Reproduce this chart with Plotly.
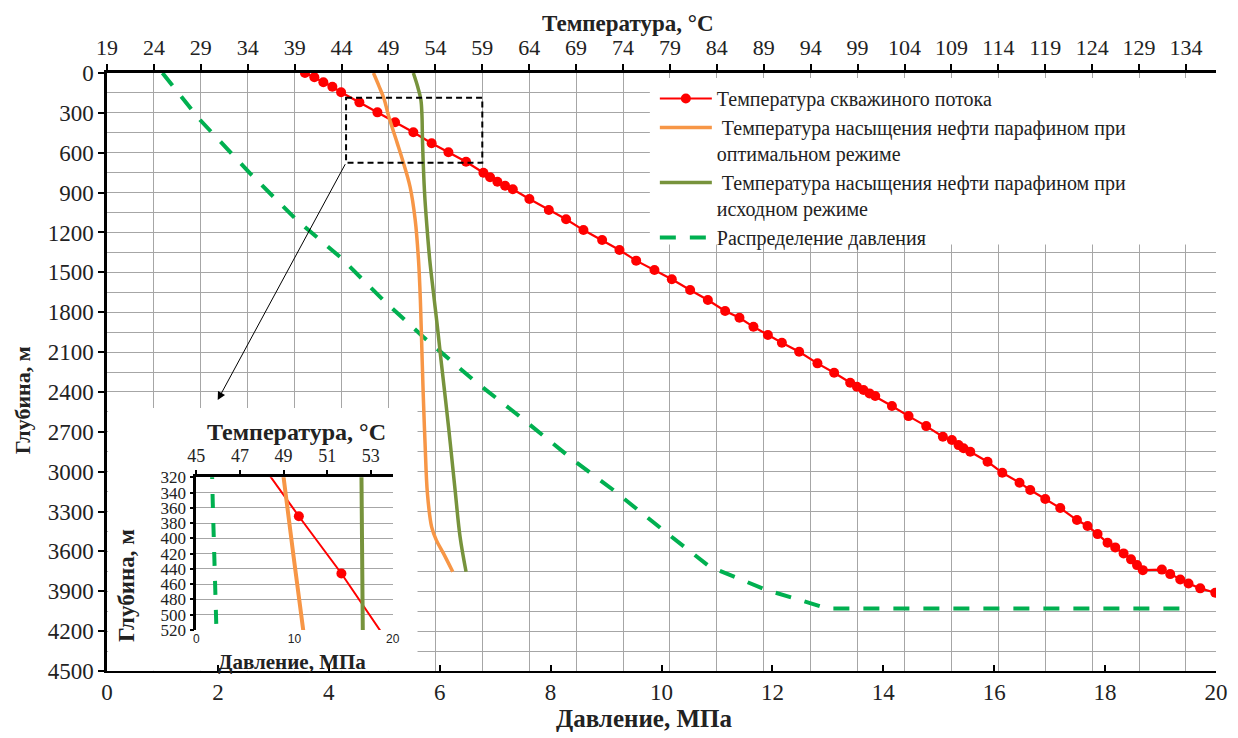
import plotly.graph_objects as go

# ---------------- data ----------------
# well flow temperature (°C) vs depth (m)
flow_depth = [0, 32, 70, 103, 145, 221, 296, 371, 446, 528, 597, 668, 751, 785, 818, 848, 875,
              948, 1031, 1101, 1182, 1257, 1332, 1412, 1482, 1552, 1633, 1708, 1791, 1842, 1910,
              1972, 2030, 2098, 2185, 2256, 2331, 2361, 2386, 2411, 2431, 2506, 2582, 2657, 2737,
              2762, 2800, 2824, 2850, 2925, 3008, 3083, 3138, 3206, 3274, 3364, 3409, 3470, 3535,
              3570, 3615, 3660, 3703, 3741, 3737, 3771, 3811, 3841, 3878, 3911]
flow_temp = [40.1, 41.1, 42.06, 43.02, 43.95, 45.9, 47.82, 49.7, 51.65, 53.6, 55.39, 57.27, 59.12,
             59.83, 60.61, 61.43, 62.25, 64.02, 66.09, 67.93, 69.78, 71.77, 73.62, 75.4, 77.35,
             79.2, 81.15, 83.04, 84.88, 86.41, 87.9, 89.44, 90.93, 92.77, 94.72, 96.5, 98.21,
             98.93, 99.63, 100.27, 100.88, 102.66, 104.43, 106.31, 108.09, 109.05, 109.76, 110.29,
             111.01, 112.85, 114.42, 116.26, 117.4, 119.0, 120.6, 122.38, 123.51, 124.58, 125.64,
             126.46, 127.35, 128.14, 128.78, 129.4, 131.43, 132.32, 133.39, 134.27, 135.52, 137.12]

# wax saturation temperature, optimal regime
opt_depth = [0, 100, 200, 320, 520, 655, 856, 1106, 1407, 1708, 2060, 2411, 2787, 3163, 3415,
             3515, 3615, 3753]
opt_temp = [47.4, 48.0, 48.55, 49.0, 49.9, 50.5, 51.3, 51.85, 52.2, 52.4, 52.55, 52.7, 52.9,
            53.15, 53.6, 54.1, 54.86, 55.85]

# wax saturation temperature, initial regime
init_depth = [0, 100, 200, 320, 520, 905, 1157, 1407, 1658, 1900, 2160, 2662, 3138, 3490, 3753]
init_temp = [51.65, 52.1, 52.45, 52.57, 52.63, 52.85, 53.1, 53.4, 53.8, 54.2, 54.6, 55.4, 56.1,
             56.63, 57.27]

# pressure distribution (MPa) vs depth (m)
pres_depth = [0, 354, 755, 1106, 1383, 1708, 1985, 2311, 2587, 2913, 3138, 3364, 3440, 3716,
              3891, 3966, 4029, 4029]
pres_value = [1.0, 1.68, 2.58, 3.42, 4.2, 4.98, 5.7, 6.61, 7.45, 8.41, 9.13, 9.79, 10.03, 10.87,
              11.9, 12.5, 12.98, 19.4]

legend_names = ["Температура скважиного потока",
                " Температура насыщения нефти парафином при<br>оптимальном режиме",
                " Температура насыщения нефти парафином при<br>исходном режиме",
                "Распределение давления"]

# ---------------- styles ----------------
RED = "#ff0000"
ORANGE = "#f79646"
OLIVE = "#77933c"
GREEN = "#00b050"
GRID = "#a6a6a6"
SERIF = "Liberation Serif"
DASH = "16px,14px"

fig = go.Figure()

# main traces
fig.add_trace(go.Scatter(x=pres_value, y=pres_depth, xaxis="x", yaxis="y", mode="lines",
                         line=dict(color=GREEN, width=4, dash=DASH), name=legend_names[3],
                         legendrank=4))
fig.add_trace(go.Scatter(x=flow_temp, y=flow_depth, xaxis="x2", yaxis="y", mode="lines+markers",
                         line=dict(color=RED, width=2.2), marker=dict(color=RED, size=10),
                         name=legend_names[0], legendrank=1))
fig.add_trace(go.Scatter(x=opt_temp, y=opt_depth, xaxis="x2", yaxis="y", mode="lines",
                         line=dict(color=ORANGE, width=3.5, shape="spline"),
                         name=legend_names[1], legendrank=2))
fig.add_trace(go.Scatter(x=init_temp, y=init_depth, xaxis="x2", yaxis="y", mode="lines",
                         line=dict(color=OLIVE, width=3.5, shape="spline"),
                         name=legend_names[2], legendrank=3))

# inset traces
fig.add_trace(go.Scatter(x=pres_value, y=pres_depth, xaxis="x3", yaxis="y2", mode="lines",
                         line=dict(color=GREEN, width=4, dash="14px,15px"), showlegend=False))
fig.add_trace(go.Scatter(x=flow_temp, y=flow_depth, xaxis="x5", yaxis="y2", mode="lines+markers",
                         line=dict(color=RED, width=2), marker=dict(color=RED, size=10),
                         cliponaxis=True, showlegend=False))
fig.add_trace(go.Scatter(x=opt_temp, y=opt_depth, xaxis="x5", yaxis="y2", mode="lines",
                         line=dict(color=ORANGE, width=4, shape="spline"), showlegend=False))
fig.add_trace(go.Scatter(x=init_temp, y=init_depth, xaxis="x5", yaxis="y2", mode="lines",
                         line=dict(color=OLIVE, width=4, shape="spline"), showlegend=False))

tickf = dict(family=SERIF, size=23, color="#222")

# inset domain in paper coords
IX = [0.0805, 0.2576]
IY = [0.0686, 0.3239]

# the page body has an 8px margin, so the figure is made 8px smaller on each axis
fig.update_layout(
    width=1230, height=730,
    margin=dict(l=99, r=22, t=65, b=67),
    paper_bgcolor="white", plot_bgcolor="white",
    font=dict(family=SERIF, color="#222"),
    xaxis=dict(domain=[0, 1], anchor="y", range=[0, 20], dtick=2, tick0=0, automargin=False,
               showgrid=False, zeroline=False, showline=True, linecolor="black", linewidth=1.5,
               ticks="inside", ticklen=6, tickcolor="black", tickwidth=1.5, tickfont=tickf),
    xaxis2=dict(overlaying="x", side="top", anchor="y", range=[19, 137.2], tick0=19, dtick=5,
                automargin=False,
                showgrid=True, gridcolor=GRID, gridwidth=1.3, zeroline=False,
                showline=True, linecolor="black", linewidth=3,
                ticks="outside", ticklen=6, tickcolor="black", tickwidth=1.5,
                tickfont=dict(family=SERIF, size=22, color="#222")),
    xaxis4=dict(overlaying="x", side="top", anchor="y", range=[19, 137.2], tick0=19, dtick=5,
                automargin=False,
                showgrid=False, zeroline=False, showticklabels=False,
                ticks="inside", ticklen=6, tickcolor="black", tickwidth=1.5),
    yaxis=dict(domain=[0, 1], anchor="x", range=[4500, 0], dtick=300, tick0=0, automargin=False,
               showgrid=True, gridcolor=GRID, gridwidth=1.3, zeroline=False,
               minor=dict(dtick=150, showgrid=True, gridcolor=GRID, gridwidth=1.3),
               showline=True, linecolor="black", linewidth=2.5,
               ticks="outside", ticklen=6, tickcolor="black", tickwidth=1.5, tickfont=tickf),
    # inset axes
    xaxis3=dict(domain=IX, anchor="y2", range=[0, 20], dtick=10, showgrid=False, automargin=False,
                zeroline=False, showline=False, ticks="",
                tickfont=dict(family="Liberation Sans", size=12, color="#222")),
    xaxis5=dict(overlaying="x3", side="top", anchor="y2", range=[45, 54], tick0=45, dtick=2,
                automargin=False,
                showgrid=False, zeroline=False, showline=True, linecolor="black", linewidth=2.5,
                ticks="outside", ticklen=5, tickcolor="black", tickwidth=1.5,
                tickfont=dict(family=SERIF, size=18, color="#222")),
    yaxis2=dict(domain=IY, anchor="x3", range=[520, 320], dtick=20, tick0=320, automargin=False,
                showgrid=True, gridcolor=GRID, gridwidth=1.2, zeroline=False,
                showline=True, linecolor="black", linewidth=2.5,
                ticks="outside", ticklen=4, tickcolor="black", tickwidth=1.5,
                tickfont=dict(family=SERIF, size=17, color="#222")),
    legend=dict(x=0.494, y=0.99, xanchor="left", yanchor="top", bgcolor="rgba(0,0,0,0)",
                font=dict(family=SERIF, size=20, color="#222"), valign="top",
                tracegroupgap=0, itemwidth=52),
    showlegend=True,
)

# white areas (legend background and inset background) hiding the main grid
fig.add_shape(type="rect", xref="x", yref="y", x0=9.79, x1=20, y0=38, y1=1290,
              fillcolor="white", line=dict(width=0), layer="between")
fig.add_shape(type="rect", xref="x", yref="y", x0=0.02, x1=5.6, y0=2520, y1=4498,
              fillcolor="white", line=dict(width=0), layer="between")

# dashed zoom rectangle and arrow
fig.add_shape(type="rect", xref="x2", yref="y", x0=44.48, x1=59.0, y0=186, y1=675,
              line=dict(color="black", width=2, dash="6px,4px"), fillcolor="rgba(0,0,0,0)",
              layer="above")
fig.add_annotation(xref="x2", yref="y", x=30.8, y=2461, axref="x2", ayref="y",
                   ax=44.48, ay=675, showarrow=True, arrowhead=2, arrowsize=1.6,
                   arrowwidth=1, arrowcolor="black", text="")

# axis titles
fig.add_annotation(xref="paper", yref="paper", x=0.47, y=1.0836, text="<b>Температура, °C</b>",
                   showarrow=False, font=dict(family=SERIF, size=23, color="#222"),
                   xanchor="center", yanchor="middle")
fig.add_annotation(xref="paper", yref="paper", x=0.484, y=-0.08, text="<b>Давление, МПа</b>",
                   showarrow=False, font=dict(family=SERIF, size=25, color="#222"),
                   xanchor="center", yanchor="middle")
fig.add_annotation(xref="paper", yref="paper", x=-0.0766, y=0.453, text="<b>Глубина, м</b>",
                   showarrow=False, font=dict(family=SERIF, size=22, color="#222"), textangle=-90,
                   xanchor="center", yanchor="middle")
# inset titles
fig.add_annotation(xref="paper", yref="paper", x=0.1713, y=0.3997, text="<b>Температура, °C</b>",
                   showarrow=False, font=dict(family=SERIF, size=24, color="#222"),
                   xanchor="center", yanchor="middle")
fig.add_annotation(xref="paper", yref="paper", x=0.1668, y=0.015, text="<b>Давление, МПа</b>",
                   showarrow=False, font=dict(family=SERIF, size=21, color="#222"),
                   xanchor="center", yanchor="middle")
fig.add_annotation(xref="paper", yref="paper", x=0.0171, y=0.1438, text="<b>Глубина, м</b>",
                   showarrow=False, font=dict(family=SERIF, size=23, color="#222"), textangle=-90,
                   xanchor="center", yanchor="middle")

fig.write_html("out.html")
